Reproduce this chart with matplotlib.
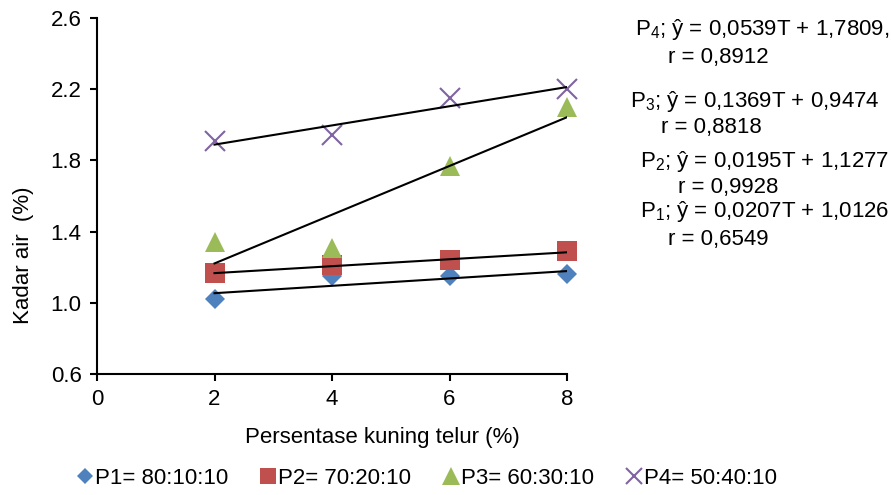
import numpy as np
import matplotlib.pyplot as plt
from matplotlib import font_manager

fams = [f.name for f in font_manager.fontManager.ttflist]
base = 'Liberation Sans Narrow' if 'Liberation Sans Narrow' in fams else 'Liberation Sans'
plt.rcParams['font.family'] = [base, 'DejaVu Sans']
plt.rcParams['mathtext.fontset'] = 'custom'
plt.rcParams['mathtext.rm'] = base
plt.rcParams['mathtext.it'] = base

# data
kuning = [2, 4, 6, 8]
p1 = [1.02, 1.15, 1.15, 1.16]
p2 = [1.17, 1.21, 1.24, 1.29]
p3 = [1.34, 1.31, 1.77, 2.10]
p4 = [1.91, 1.94, 2.15, 2.20]
labels = ['P1= 80:10:10', 'P2= 70:20:10', 'P3= 60:30:10', 'P4= 50:40:10']
# trendline coefficients (slope, intercept) from the chart
slopes = [0.0207, 0.0195, 0.1369, 0.0539]
intercepts = [1.0126, 1.1277, 0.9474, 1.7809]
eq_text = ['P$_1$; ŷ = 0,0207T + 1,0126', 'P$_2$; ŷ = 0,0195T + 1,1277',
           'P$_3$; ŷ = 0,1369T + 0,9474', 'P$_4$; ŷ = 0,0539T + 1,7809,']
r_text = ['r = 0,6549', 'r = 0,9928', 'r = 0,8818', 'r = 0,8912']

colors = ['#4F81BD', '#C0504D', '#9BBB59', '#8064A2']
markers = ['D', 's', '^', 'x']
msizes = [10, 14, 15, 14]

fig = plt.figure(figsize=(8.91, 4.95), dpi=100)
ax = fig.add_axes([97/891, 1-374/495, (567-97)/891, (374-18)/495])

for i, ys in enumerate([p1, p2, p3, p4]):
    ax.plot(kuning, ys, linestyle='none', marker=markers[i], color=colors[i],
            markersize=msizes[i], markeredgewidth=1.5 if markers[i] == 'x' else 0,
            label=labels[i], clip_on=False, zorder=3)
for i in range(4):
    t = np.array([kuning[0], kuning[-1]])
    ax.plot(t, slopes[i]*t + intercepts[i], color='black', lw=1.5, zorder=4)

ax.set_xlim(0, 8)
ax.set_ylim(0.6, 2.6)
ax.set_xticks([0, 2, 4, 6, 8])
ax.set_yticks([0.6, 1.0, 1.4, 1.8, 2.2, 2.6])
ax.set_yticklabels(['0.6', '1.0', '1.4', '1.8', '2.2', '2.6'])
ax.spines['top'].set_visible(False)
ax.spines['right'].set_visible(False)
for s in ['left', 'bottom']:
    ax.spines[s].set_linewidth(1.5)
ax.tick_params(direction='out', length=5, width=1.5, labelsize=16, pad=6)
ax.set_xlabel('Persentase kuning telur (%)', fontsize=16, va='center')
ax.set_ylabel('Kadar air  (%)', fontsize=16, va='center')
ax.xaxis.set_label_coords((382-97)/470, -(437-374)/356)
ax.yaxis.set_label_coords(-(97-24)/470, (374-255)/356)

# equations on the right
eq_pos = [(765, 212), (765, 162), (755, 102), (762, 30)]
r_pos = [(718, 240), (728, 188), (711, 128), (718, 57)]
for i in range(4):
    fig.text(eq_pos[i][0]/891, 1-eq_pos[i][1]/495, eq_text[i], fontsize=16,
             ha='center', va='center')
    fig.text(r_pos[i][0]/891, 1-r_pos[i][1]/495, r_text[i], fontsize=16,
             ha='center', va='center')

fig.legend(loc='center', bbox_to_anchor=(428/891, 1-478/495), ncol=4, frameon=False,
           fontsize=16, handlelength=0.6, handletextpad=0.15, columnspacing=1.5,
           markerscale=0.85)

fig.savefig('out.png', dpi=100)
